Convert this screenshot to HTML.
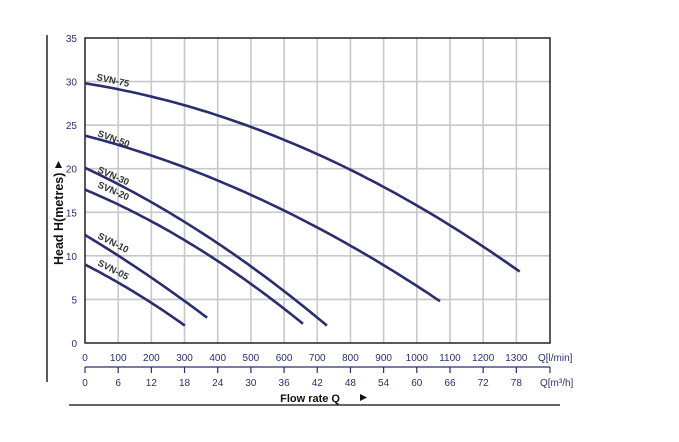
<!DOCTYPE html>
<html><head><meta charset="utf-8"><style>
html,body{margin:0;padding:0;background:#fff;}
svg{display:block;font-family:"Liberation Sans",Arial,sans-serif;}
</style></head><body>
<svg id="s" width="679" height="442" viewBox="0 0 679 442" xmlns="http://www.w3.org/2000/svg">
<g id="grid" stroke="#c8c8c8" stroke-width="1.6"></g>
<rect x="85" y="38" width="465" height="305" fill="none" stroke="#222" stroke-width="1.5"/>
<line x1="47" y1="35" x2="47" y2="382" stroke="#333" stroke-width="1.6"/>
<line x1="69" y1="405" x2="560" y2="405" stroke="#333" stroke-width="1.6"/>
<g id="yl" fill="#2b2e6e" font-size="10" text-anchor="end"></g>
<g id="xl" fill="#2b2e6e" font-size="10" text-anchor="middle"></g>
<line x1="85" y1="367" x2="550" y2="367" stroke="#2b2e6e" stroke-width="1.2"/>
<g id="tk" stroke="#2b2e6e" stroke-width="1.2"></g>
<text x="538" y="361" fill="#2b2e6e" font-size="10">Q[l/min]</text>
<text x="540" y="386" fill="#2b2e6e" font-size="10">Q[m³/h]</text>
<text x="340" y="402" fill="#111" font-size="11" font-weight="bold" text-anchor="end">Flow rate Q</text>
<path d="M360 394 L367 397.5 L360 401 Z" fill="#111"/>
<text transform="translate(63,265) rotate(-90)" fill="#111" font-size="12.5" font-weight="bold">Head H(metres)</text>
<path d="M55 168 L58.5 161 L62 168 Z" fill="#111"/>
<g id="cv" fill="none" stroke="#2b2e6e" stroke-width="2.6"></g>
<g fill="#333" font-size="9.5" font-weight="bold">
<text transform="translate(96,80) rotate(12)">SVN-75</text>
<text transform="translate(97,136) rotate(20)">SVN-50</text>
<text transform="translate(97,172) rotate(24)">SVN-30</text>
<text transform="translate(97,187) rotate(24)">SVN-20</text>
<text transform="translate(97,238) rotate(27)">SVN-10</text>
<text transform="translate(97,265) rotate(27)">SVN-05</text>
</g>
</svg>
<script>
var ns="http://www.w3.org/2000/svg";
function el(p,t,a,txt){var e=document.createElementNS(ns,t);for(var k in a)e.setAttribute(k,a[k]);if(txt!==undefined)e.textContent=txt;document.getElementById(p).appendChild(e);}
function X(q){return 85+q*0.3318;}function Y(h){return 343-h*8.714;}
for(var i=1;i<14;i++){el("grid","line",{x1:X(i*100),y1:38,x2:X(i*100),y2:343});}
for(var j=1;j<7;j++){el("grid","line",{x1:85,y1:Y(j*5),x2:550,y2:Y(j*5)});}
for(var j=0;j<8;j++){el("yl","text",{x:77,y:Y(j*5)+4},String(j*5));}
for(var i=0;i<14;i++){el("xl","text",{x:X(i*100),y:361},String(i*100));el("xl","text",{x:X(i*100),y:386},String(i*6));el("tk","line",{x1:X(i*100),y1:367,x2:X(i*100),y2:373});}
el("tk","line",{x1:550,y1:367,x2:550,y2:373});
var C=[[29.8,0.006,8.01e-6,1310],[23.8,0.00995,7.3e-6,1070],[20.1,0.01776,9.7e-6,729],[17.6,0.01588,1.15e-5,657],[12.4,0.02294,7.8e-6,368],[9.0,0.0194,1.28e-5,301]];
C.forEach(function(c){var d="";for(var k=0;k<=60;k++){var q=c[3]*k/60;var h=c[0]-c[1]*q-c[2]*q*q;d+=(k?"L":"M")+X(q).toFixed(1)+" "+Y(h).toFixed(1);}el("cv","path",{d:d});});
</script>
</body></html>
